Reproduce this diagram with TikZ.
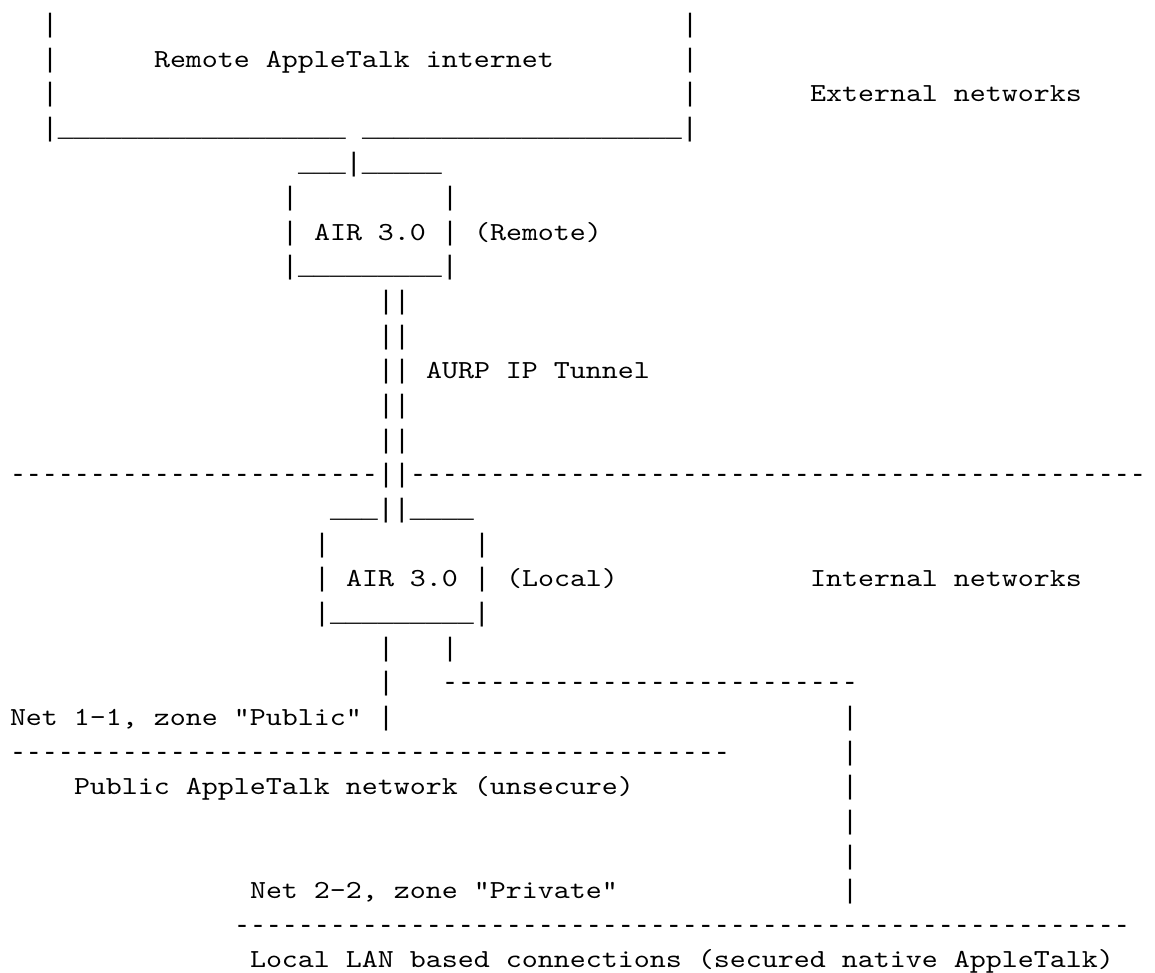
\documentclass[tikz,border=0pt]{standalone}
\usepackage{fontspec}
\newfontfamily\asciitxtfont{lmmono10-regular.otf}[FakeStretch=1.172, Ligatures=TeXOff]
\newfontfamily\asciisymfont{Liberation Mono}[Ligatures=TeXOff]
\ExplSyntaxOn
\cs_new:Npn \asciirep #1#2 { \prg_replicate:nn {#1} {#2} }
\ExplSyntaxOff
\frenchspacing
\tikzset{
  asciibase/.style={text=black, anchor=base west, inner sep=0pt, outer sep=0pt},
  asciitxt/.style={asciibase, font=\asciitxtfont\fontsize{26}{34.65}\selectfont},
  asciisym/.style={asciibase, font=\asciisymfont\fontsize{26.66}{34.65}\selectfont}
}
% place a fragment at a character cell: name, column, row, text
\newcommand\txtat[4]{\node[asciitxt] (#1) at ({10+16*#2},{32.4+34.65*#3}) {#4};}
\newcommand\symat[4]{\node[asciisym] (#1) at ({10+16*#2},{32.4+34.65*#3}) {#4};}
\begin{document}
\begin{tikzpicture}[x=1pt,y=-1pt]
\useasboundingbox (0,0) rectangle (1155,972);
\fill[white] (0,0) rectangle (1155,972);
% remote internet box
\symat{extLa}{2}{0}{|}
\symat{extRa}{42}{0}{|}
\symat{extLb}{2}{1}{|}
\txtat{extTitle}{9}{1}{Remote AppleTalk internet}
\symat{extRb}{42}{1}{|}
\symat{extLc}{2}{2}{|}
\symat{extRc}{42}{2}{|}
\txtat{extLabel}{50}{2}{External networks}
\symat{extBotL}{2}{3}{|\asciirep{18}{\_}}
\symat{extBotR}{22}{3}{\asciirep{20}{\_}|}
% remote AIR
\symat{remTop}{18}{4}{\_\_\_|\_\_\_\_\_}
\symat{remLa}{17}{5}{|}
\symat{remRa}{27}{5}{|}
\symat{remLb}{17}{6}{|}
\txtat{remName}{19}{6}{AIR 3.0}
\symat{remRb}{27}{6}{|}
\txtat{remLabel}{29}{6}{(Remote)}
\symat{remBot}{17}{7}{|\asciirep{9}{\_}|}
% tunnel
\symat{tunA}{23}{8}{||}
\symat{tunB}{23}{9}{||}
\symat{tunC}{23}{10}{||}
\txtat{tunLabel}{26}{10}{AURP IP Tunnel}
\symat{tunD}{23}{11}{||}
\symat{tunE}{23}{12}{||}
% boundary
\symat{bndL}{0}{13}{\asciirep{23}{-}}
\symat{tunF}{23}{13}{||}
\symat{bndR}{25}{13}{\asciirep{46}{-}}
% local AIR
\symat{locTop}{20}{14}{\_\_\_||\_\_\_\_}
\symat{locLa}{19}{15}{|}
\symat{locRa}{29}{15}{|}
\symat{locLb}{19}{16}{|}
\txtat{locName}{21}{16}{AIR 3.0}
\symat{locRb}{29}{16}{|}
\txtat{locLabel}{31}{16}{(Local)}
\txtat{intLabel}{50}{16}{Internal networks}
\symat{locBot}{19}{17}{|\asciirep{9}{\_}|}
% links
\symat{pubA}{23}{18}{|}
\symat{privA}{27}{18}{|}
\symat{pubB}{23}{19}{|}
\symat{privB}{27}{19}{\asciirep{26}{-}}
\txtat{pubNet}{0}{20}{Net 1-1, zone "Public"}
\symat{pubC}{23}{20}{|}
\symat{privC}{52}{20}{|}
\symat{pubLine}{0}{21}{\asciirep{45}{-}}
\symat{privD}{52}{21}{|}
\txtat{pubLabel}{4}{22}{Public AppleTalk network (unsecure)}
\symat{privE}{52}{22}{|}
\symat{privF}{52}{23}{|}
\symat{privG}{52}{24}{|}
\txtat{privNet}{15}{25}{Net 2-2, zone "Private"}
\symat{privH}{52}{25}{|}
\symat{privLine}{14}{26}{\asciirep{56}{-}}
\txtat{privLabel}{15}{27}{Local LAN based connections (secured native AppleTalk)}
\end{tikzpicture}
\end{document}
